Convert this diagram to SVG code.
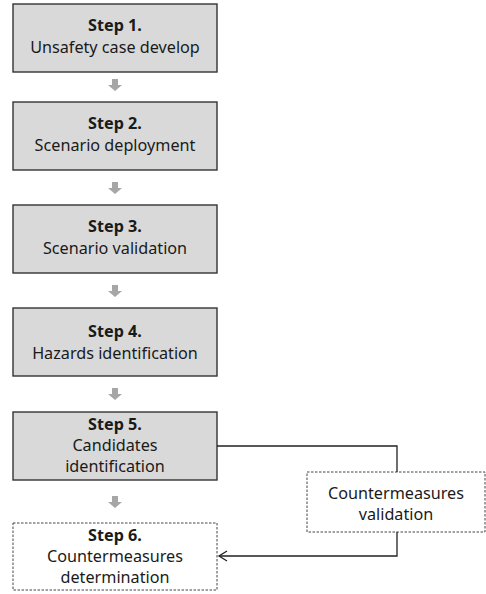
<svg xmlns="http://www.w3.org/2000/svg" width="486" height="594" viewBox="0 0 486 594">
<style>
.box{fill:#d9d9d9;stroke:#333;stroke-width:1.4}
.dbox{fill:#fff;stroke:#444;stroke-width:1;stroke-dasharray:2.5,1.5}
text{font-family:"Noto Sans","Open Sans","DejaVu Sans",sans-serif;font-size:16.2px;fill:#1a1a1a;text-anchor:middle}
.b{font-weight:bold}
.conn{fill:none;stroke:#222;stroke-width:1.3}
.garrow{fill:#a6a6a6}
</style>
<defs>
<path id="ga" d="M-3,0 H3 V6 H7 L0,12 L-7,6 H-3 Z"/>
<marker id="open" markerWidth="12" markerHeight="12" refX="10" refY="6" orient="auto" markerUnits="userSpaceOnUse">
<path d="M2,1 L10,6 L2,11" fill="none" stroke="#222" stroke-width="1.3"/>
</marker>
</defs>
<g id="step1"><rect class="box" x="13" y="4" width="204" height="68"/><text class="b" x="115" y="31">Step 1.</text><text x="115" y="53">Unsafety case develop</text></g>
<g id="step2"><rect class="box" x="13" y="102" width="204" height="68"/><text class="b" x="115" y="129">Step 2.</text><text x="115" y="151">Scenario deployment</text></g>
<g id="step3"><rect class="box" x="13" y="205" width="204" height="68"/><text class="b" x="115" y="232">Step 3.</text><text x="115" y="254">Scenario validation</text></g>
<g id="step4"><rect class="box" x="13" y="308" width="204" height="68"/><text class="b" x="115" y="337">Step 4.</text><text x="115" y="359">Hazards identification</text></g>
<g id="step5"><rect class="box" x="13" y="412" width="204" height="68"/><text class="b" x="115" y="430">Step 5.</text><text x="115" y="451">Candidates</text><text x="115" y="472">identification</text></g>
<g id="step6"><rect class="dbox" x="13" y="523" width="204" height="67"/><text class="b" x="115" y="541">Step 6.</text><text x="115" y="562">Countermeasures</text><text x="115" y="583">determination</text></g>
<g id="validation"><rect class="dbox" x="307" y="472" width="178" height="60"/><text x="396" y="499">Countermeasures</text><text x="396" y="520">validation</text></g>
<g id="connectors">
<use href="#ga" class="garrow" x="115" y="79"/>
<use href="#ga" class="garrow" x="115" y="182"/>
<use href="#ga" class="garrow" x="115" y="285"/>
<use href="#ga" class="garrow" x="115" y="388"/>
<use href="#ga" class="garrow" x="115" y="496"/>
<path class="conn" d="M217,446 H397 V472"/>
<path class="conn" d="M397,532 V556 H219" marker-end="url(#open)"/>
</g>
</svg>
